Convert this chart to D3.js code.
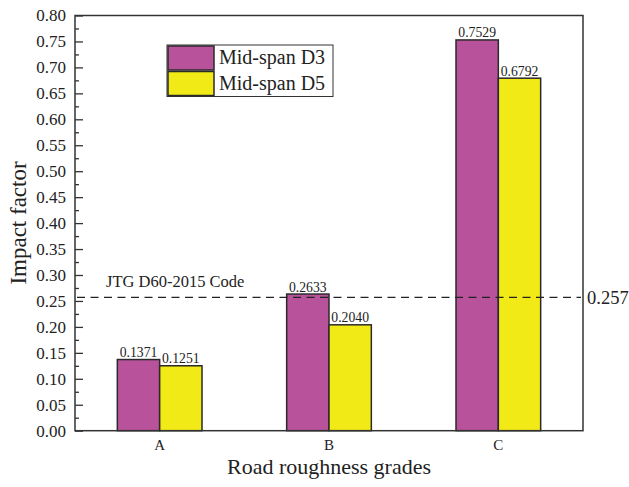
<!DOCTYPE html>
<html>
<head>
<meta charset="utf-8">
<script src="https://cdn.jsdelivr.net/npm/d3@7"></script>
<style>
  body { margin: 0; background: #fff; }
  text { font-family: "Liberation Serif", "Times New Roman", serif; fill: #222; }
</style>
</head>
<body>
<div id="chart"></div>
<script>
// data
var grades = ["A", "B", "C"];
var seriesNames = ["Mid-span D3", "Mid-span D5"];
var d3Values = [0.1371, 0.2633, 0.7529];
var d5Values = [0.1251, 0.2040, 0.6792];
var yTicks = [0, 0.05, 0.1, 0.15, 0.2, 0.25, 0.3, 0.35, 0.4, 0.45, 0.5, 0.55, 0.6, 0.65, 0.7, 0.75, 0.8];
var codeValue = 0.257;
var codeLabel = "JTG D60-2015 Code";

var colors = ["#b8529b", "#f2ea16"];

var w = 629, h = 487;
var pLeft = 75, pRight = 583, pTop = 15.5, pBottom = 430.7;

var svg = d3.select("#chart").append("svg")
    .attr("width", w)
    .attr("height", h);

var x = d3.scaleBand().domain(grades).range([pLeft, pRight]).padding(0);
var bw = x.bandwidth();
var x1 = d3.scaleBand().domain([0, 1]).range([bw / 4, bw * 3 / 4]).padding(0);
var y = d3.scaleLinear().domain([0, 0.8]).range([pBottom, pTop]);

// rows for bars
var rows = [];
grades.forEach(function (g, i) {
    rows.push({ g: g, s: 0, v: d3Values[i] });
    rows.push({ g: g, s: 1, v: d5Values[i] });
});

// bars
svg.selectAll("rect.bar")
    .data(rows)
    .enter()
    .append("rect")
    .attr("class", "bar")
    .attr("x", function (d) { return x(d.g) + x1(d.s); })
    .attr("y", function (d) { return y(d.v); })
    .attr("width", x1.bandwidth())
    .attr("height", function (d) { return y(0) - y(d.v); })
    .attr("fill", function (d) { return colors[d.s]; })
    .attr("stroke", "#2a2a2a")
    .attr("stroke-width", 1.5);

// value labels
svg.selectAll("text.val")
    .data(rows)
    .enter()
    .append("text")
    .attr("class", "val")
    .attr("x", function (d) { return x(d.g) + x1(d.s) + x1.bandwidth() / 2; })
    .attr("y", function (d) { return y(d.v) - 2.5; })
    .attr("text-anchor", "middle")
    .attr("font-size", "13.7px")
    .text(function (d) { return d.v.toFixed(4); });

// dashed code line
svg.append("line")
    .attr("x1", pLeft + 2)
    .attr("x2", pRight - 2)
    .attr("y1", y(codeValue))
    .attr("y2", y(codeValue))
    .attr("stroke", "#222")
    .attr("stroke-width", 1.3)
    .attr("stroke-dasharray", "8,5.5");

svg.append("text")
    .attr("x", 106)
    .attr("y", y(codeValue) - 10)
    .attr("font-size", "16.5px")
    .text(codeLabel);

svg.append("text")
    .attr("x", pRight + 4)
    .attr("y", y(codeValue) + 7)
    .attr("font-size", "18.5px")
    .text(codeValue);

// y axis (ticks inward)
var yAxis = svg.append("g")
    .attr("transform", "translate(" + pLeft + ",0)")
    .call(d3.axisRight(y).tickValues(yTicks).tickSize(8).tickFormat(""));
yAxis.select(".domain").remove();
yAxis.selectAll("line").attr("stroke", "#333").attr("stroke-width", 1.3);

var minor = svg.append("g")
    .attr("transform", "translate(" + pLeft + ",0)")
    .call(d3.axisRight(y).tickValues(yTicks.slice(1).map(function (t) { return t - 0.025; })).tickSize(4).tickFormat(""));
minor.select(".domain").remove();
minor.selectAll("line").attr("stroke", "#333").attr("stroke-width", 1.3);

svg.selectAll("text.ytick")
    .data(yTicks)
    .enter()
    .append("text")
    .attr("class", "ytick")
    .attr("x", pLeft - 9)
    .attr("y", function (d) { return y(d) + 5.8; })
    .attr("text-anchor", "end")
    .attr("font-size", "17px")
    .text(function (d) { return d.toFixed(2); });

// x labels
var xAxis = svg.append("g")
    .attr("transform", "translate(0," + pBottom + ")")
    .call(d3.axisBottom(x).tickSize(0).tickPadding(9));
xAxis.select(".domain").remove();
xAxis.selectAll("text")
    .attr("font-size", "15px")
    .attr("font-family", "Liberation Serif, serif")
    .attr("fill", "#222");

// frame
svg.append("rect")
    .attr("x", pLeft)
    .attr("y", pTop)
    .attr("width", pRight - pLeft)
    .attr("height", pBottom - pTop)
    .attr("fill", "none")
    .attr("stroke", "#333")
    .attr("stroke-width", 1.5);

// axis titles
svg.append("text")
    .attr("x", (pLeft + pRight) / 2)
    .attr("y", 474)
    .attr("text-anchor", "middle")
    .attr("font-size", "22px")
    .text("Road roughness grades");

svg.append("text")
    .attr("transform", "translate(26," + 223 + ") rotate(-90)")
    .attr("text-anchor", "middle")
    .attr("font-size", "23px")
    .text("Impact factor");

// legend
var lg = svg.append("g").attr("transform", "translate(167,45)");
lg.append("rect")
    .attr("x", 0).attr("y", 0)
    .attr("width", 166).attr("height", 51.5)
    .attr("fill", "#fff")
    .attr("stroke", "#333")
    .attr("stroke-width", 1);
seriesNames.forEach(function (name, i) {
    lg.append("rect")
        .attr("x", 1).attr("y", 1 + i * 25.5)
        .attr("width", 46).attr("height", 24)
        .attr("fill", colors[i])
        .attr("stroke", "#2a2a2a")
        .attr("stroke-width", 1.5);
    lg.append("text")
        .attr("x", 52)
        .attr("y", 19 + i * 25.5)
        .attr("font-size", "20px")
        .text(name);
});
</script>
</body>
</html>
